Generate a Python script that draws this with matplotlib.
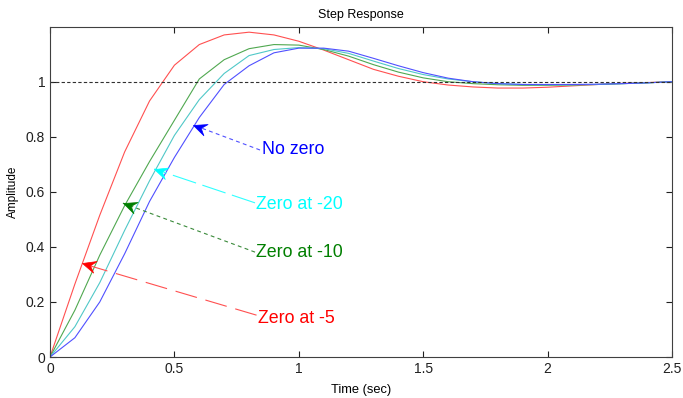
import math
import matplotlib
matplotlib.use("Agg")
import matplotlib.pyplot as plt
from matplotlib.path import Path
from matplotlib.markers import MarkerStyle

plt.rcParams['font.family'] = ['Liberation Sans', 'DejaVu Sans']

# Time samples (sec)
t = [0.0, 0.1, 0.2, 0.3, 0.4, 0.5, 0.6, 0.7, 0.8, 0.9, 1.0, 1.1, 1.2,
     1.3, 1.4, 1.5, 1.6, 1.7, 1.8, 1.9, 2.0, 2.1, 2.2, 2.3, 2.4, 2.5]

# Step responses
zero_at_5 = [0.0, 0.265, 0.515, 0.745, 0.93, 1.06, 1.135, 1.17, 1.18, 1.17,
             1.147, 1.115, 1.08, 1.045, 1.02, 1.0, 0.988, 0.981, 0.977, 0.977,
             0.98, 0.985, 0.99, 0.994, 0.997, 1.0]
zero_at_10 = [0.0, 0.17, 0.37, 0.55, 0.71, 0.86, 1.01, 1.08, 1.12, 1.135,
              1.133, 1.117, 1.093, 1.062, 1.035, 1.014, 1.0, 0.993, 0.989, 0.987,
              0.987, 0.988, 0.99, 0.993, 0.996, 1.0]
zero_at_20 = [0.0, 0.11, 0.27, 0.46, 0.64, 0.805, 0.935, 1.03, 1.095, 1.117,
              1.124, 1.12, 1.103, 1.075, 1.048, 1.026, 1.01, 1.0, 0.993, 0.99,
              0.989, 0.989, 0.99, 0.993, 0.996, 1.0]
no_zero = [0.0, 0.07, 0.2, 0.375, 0.565, 0.725, 0.87, 0.99, 1.058, 1.105,
           1.122, 1.122, 1.111, 1.085, 1.058, 1.033, 1.013, 1.0, 0.993, 0.99,
           0.99, 0.99, 0.991, 0.993, 0.996, 1.0]

x_ticks = [0, 0.5, 1, 1.5, 2, 2.5]
x_tick_labels = ["0", "0.5", "1", "1.5", "2", "2.5"]
y_ticks = [0, 0.2, 0.4, 0.6, 0.8, 1]
y_tick_labels = ["0", "0.2", "0.4", "0.6", "0.8", "1"]

# annotations: label, text position (data), line start, arrow tip (data)
ann_labels = ["No zero", "Zero at -20", "Zero at -10", "Zero at -5"]
ann_text_xy = [(0.850, 0.752), (0.826, 0.555), (0.826, 0.381), (0.836, 0.14)]
ann_line_start = [(0.844, 0.752), (0.824, 0.56), (0.824, 0.381), (0.83, 0.152)]
ann_tips = [(0.575, 0.843), (0.419, 0.683), (0.293, 0.559), (0.128, 0.340)]
ann_colors = ["#0000ff", "#00ffff", "#007f00", "#ff0000"]
ann_line_colors = ["#5050ff", "#30ffff", "#3a8a3a", "#ff5050"]
ann_dashes = [(3.5, 3), (22, 6), (3.5, 3), (20, 8)]

fig = plt.figure(figsize=(6.83, 3.98), dpi=100)
ax = fig.add_axes([0.0732, 0.103, 0.9108, 0.830])
ax.set_xlim(0, 2.5)
ax.set_ylim(0, 1.2)

line_colors = ["#ff5050", "#50a850", "#50c8c8", "#5050ff"]
for y, c in zip([zero_at_5, zero_at_10, zero_at_20, no_zero], line_colors):
    ax.plot(t, y, color=c, lw=0.8)

ax.axhline(1.0, color="#303030", lw=0.8, ls=(0, (3, 2)))

head = [(0, 0), (-1.0, 0.45), (-0.62, 0), (-1.0, -0.45), (0, 0)]
for lab, txy, ls, tip, c, lc, d in zip(ann_labels, ann_text_xy, ann_line_start,
                                        ann_tips, ann_colors, ann_line_colors,
                                        ann_dashes):
    ax.plot([ls[0], tip[0]], [ls[1], tip[1]], color=lc, lw=0.8, dashes=d)
    p0 = ax.transData.transform(ls)
    p1 = ax.transData.transform(tip)
    ang = math.atan2(p1[1] - p0[1], p1[0] - p0[0])
    ca, sa = math.cos(ang), math.sin(ang)
    verts = [(x * ca - y * sa, x * sa + y * ca) for x, y in head]
    codes = [Path.MOVETO, Path.LINETO, Path.LINETO, Path.LINETO, Path.CLOSEPOLY]
    mk = MarkerStyle(Path(verts, codes))
    ax.plot([tip[0]], [tip[1]], marker=mk, markersize=21, color=c,
            markeredgewidth=0.5, linestyle="none")
    ax.text(txy[0], txy[1], lab, color=c, fontsize=12.8, va="center", ha="left")

ax.set_xticks(x_ticks)
ax.set_xticklabels(x_tick_labels)
ax.set_yticks(y_ticks)
ax.set_yticklabels(y_tick_labels)
ax.tick_params(direction="in", top=True, right=True, length=4, width=0.8,
               labelsize=10, colors="#202020")
for s in ax.spines.values():
    s.set_color("#404040")
    s.set_linewidth(0.8)

ax.set_title("Step Response", fontsize=9, pad=6)
ax.set_xlabel("Time (sec)", fontsize=9.3, labelpad=6)
ax.set_ylabel("Amplitude", fontsize=8.5)
ax.yaxis.set_label_coords(-0.05, 0.5)

fig.savefig("out.png", dpi=100)
